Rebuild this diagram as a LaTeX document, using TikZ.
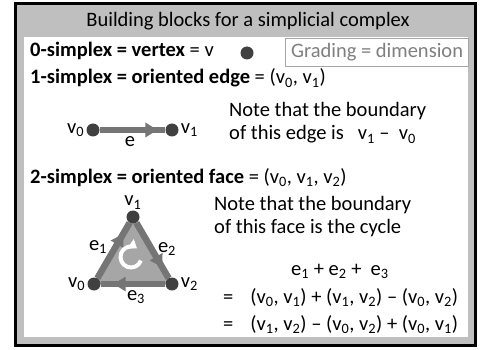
\documentclass[tikz,border=0pt]{standalone}
\usepackage{fontspec}
\setmainfont{Carlito}
\usetikzlibrary{arrows.meta,calc,positioning,backgrounds,decorations.markings}
\definecolor{framegray}{HTML}{BFBFBF}
\definecolor{edgegray}{HTML}{757575}
\definecolor{facegray}{HTML}{A6A6A6}
\definecolor{dotgray}{HTML}{404040}
\definecolor{boxgray}{HTML}{A6A6A6}
\definecolor{gradetext}{HTML}{7F7F7F}
\newcommand{\vx}[1]{v\textsubscript{#1}}
\newcommand{\ex}[1]{e\textsubscript{#1}}
\tikzset{
  frameline/.style={draw=black, line width=3pt, fill=framegray},
  txt/.style={anchor=base west, inner sep=0pt},
  gradebox/.style={draw=boxgray, line width=1.2pt, text=gradetext, minimum width=183pt, minimum height=28pt, inner sep=0pt, anchor=north west},
  vdot/.style={circle, fill=dotgray, inner sep=0pt, minimum size=13pt},
  edgeline/.style={draw=edgegray, line width=6.5pt},
  midarrow/.style={postaction={decorate}, decoration={markings, mark=at position #1 with {\arrow[edgegray]{Triangle[length=12pt,width=14pt]}}}},
  midarrow/.default=0.75,
  vlabel/.style={inner sep=1pt}
}

\begin{document}
\begin{tikzpicture}[x=1pt, y=-1pt, font=\fontsize{20.5}{24}\selectfont]
  \useasboundingbox (0,0) rectangle (482,350);
  % frame and panel
  \begin{scope}[on background layer]
    \draw[frameline] (15.5,4) rectangle (475,345);
    \fill[white] (24,37) rectangle (468,337);
  \end{scope}
  \node[anchor=base, inner sep=0pt] (title) at (248,27) {Building blocks for a simplicial complex};

  % 0-simplex
  \node[txt] (zero) at (30,57) {\textbf{0-simplex = vertex} = v};
  \node[vdot] (v) at (247,53) {};
  \node[gradebox] (grading) at (285,38) {Grading = dimension};

  % 1-simplex
  \node[txt] (one) at (30,84) {\textbf{1-simplex = oriented edge} = (\vx{0}, \vx{1})};
  \node[vdot] (a0) at (93,130) {};
  \node[vdot] (a1) at (172,130) {};
  \draw[edgeline, midarrow=0.88] (a0) -- (a1);
  \node[vlabel, left=1pt of a0] (a0lbl) {\vx{0}};
  \node[vlabel, right=1pt of a1] (a1lbl) {\vx{1}};
  \node[anchor=base, inner sep=0pt] (elbl) at (130,147) {e};
  \node[txt] (note1) at (229,117) {Note that the boundary};
  \node[txt] (note2) at (229,140) {of this edge is\ \ \ \vx{1} -- \ \vx{0}};

  % 2-simplex
  \node[txt] (two) at (30,183) {\textbf{2-simplex = oriented face} = (\vx{0}, \vx{1}, \vx{2})};
  \node[vdot] (b1) at (133,217) {};
  \node[vdot] (b0) at (94,284) {};
  \node[vdot] (b2) at (172,284) {};
  \begin{scope}[on background layer]
    \fill[facegray] (b0.center) -- (b1.center) -- (b2.center) -- cycle;
    \draw[edgeline, midarrow=0.8] (b0) -- (b1);
    \draw[edgeline, midarrow=0.8] (b1) -- (b2);
    \draw[edgeline, midarrow=0.8] (b2) -- (b0);
  \end{scope}
  \coordinate (mid) at (131,257);
  \draw[white, line width=4pt, -{Triangle[length=8pt,width=11pt]}]
    (mid) ++(-20:10.5pt) arc[start angle=-20, end angle=-305, radius=10.5pt];
  \node[vlabel, above=0pt of b1] (b1lbl) {\vx{1}};
  \node[vlabel, left=1pt of b0] (b0lbl) {\vx{0}};
  \node[vlabel, right=1pt of b2] (b2lbl) {\vx{2}};
  \node[inner sep=0pt] (e1lbl) at (98,247) {\ex{1}};
  \node[inner sep=0pt] (e2lbl) at (167,249) {\ex{2}};
  \node[inner sep=0pt] (e3lbl) at (136,297) {\ex{3}};
  \node[txt] (note3) at (214,210) {Note that the boundary};
  \node[txt] (note4) at (214,233) {of this face is the cycle};
  \node[txt] (cycle) at (291,275) {\ex{1} + \ex{2} + \ \ex{3}};
  \node[txt] (sum1) at (223,303) {=\hspace{17pt}(\vx{0}, \vx{1}) + (\vx{1}, \vx{2}) -- (\vx{0}, \vx{2})};
  \node[txt] (sum2) at (223,330) {=\hspace{17pt}(\vx{1}, \vx{2}) -- (\vx{0}, \vx{2}) + (\vx{0}, \vx{1})};
\end{tikzpicture}
\end{document}
